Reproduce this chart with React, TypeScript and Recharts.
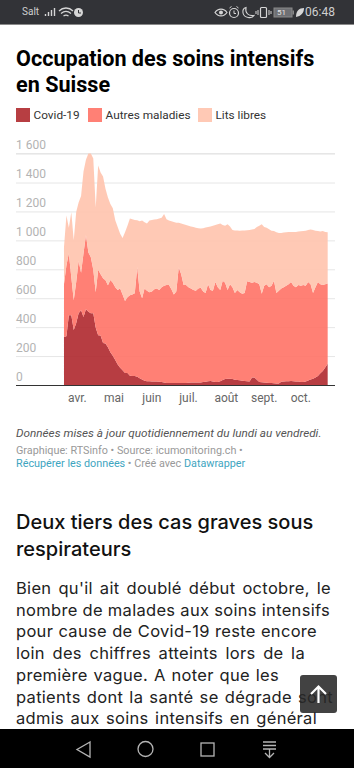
import React from 'react';
import { AreaChart, Area, XAxis, YAxis, CartesianGrid } from 'recharts';

// one reading every 2 days, day 0 = 21 March
const covid = [335, 340, 486, 486, 383, 430, 500, 520, 473, 528, 510, 500, 500, 400, 348, 345, 293, 290, 265, 230, 205, 176, 145, 122, 105, 86, 86, 68, 66, 66, 60, 50, 42, 32, 30, 30, 28, 28, 27, 26, 24, 20, 17, 17, 17, 17, 17, 17, 17, 17, 18, 19, 20, 20, 20, 21, 21, 24, 26, 30, 31, 28, 25, 24, 30, 38, 45, 46, 46, 45, 40, 38, 36, 33, 31, 30, 28, 55, 55, 40, 25, 22, 20, 19, 18, 17, 15, 14, 14, 26, 27, 29, 30, 31, 29, 28, 27, 25, 24, 28, 35, 42, 46, 55, 66, 85, 100, 125, 150];
// top of the "Autres maladies" band (covid + autres)
const occupied = [700, 830, 914, 749, 590, 714, 860, 780, 914, 1038, 920, 887, 800, 645, 800, 770, 742, 728, 693, 730, 710, 680, 660, 670, 630, 585, 610, 624, 630, 638, 817, 650, 604, 670, 655, 645, 650, 665, 670, 660, 680, 690, 695, 695, 665, 630, 650, 815, 770, 695, 695, 680, 670, 660, 655, 670, 675, 650, 640, 700, 660, 655, 715, 680, 660, 725, 710, 660, 700, 680, 640, 660, 645, 635, 640, 720, 715, 710, 715, 710, 700, 635, 690, 700, 680, 690, 725, 640, 655, 670, 680, 690, 700, 715, 690, 680, 695, 690, 695, 690, 715, 700, 640, 680, 715, 700, 695, 700, 705];
// top of the whole stack
const total = [955, 1176, 1090, 1197, 1004, 1200, 1266, 1310, 1480, 1560, 1604, 1604, 1570, 1231, 1521, 1473, 1445, 1360, 1300, 1255, 1225, 1142, 1095, 1050, 1020, 1060, 1105, 1155, 1150, 1145, 1142, 1135, 1140, 1128, 1120, 1140, 1145, 1148, 1150, 1155, 1160, 1185, 1150, 1140, 1135, 1130, 1125, 1125, 1120, 1115, 1110, 1105, 1100, 1095, 1090, 1087, 1085, 1087, 1092, 1095, 1100, 1105, 1110, 1115, 1120, 1110, 1105, 1115, 1100, 1075, 1072, 1072, 1070, 1072, 1072, 1073, 1075, 1078, 1082, 1095, 1105, 1115, 1095, 1090, 1080, 1070, 1068, 1060, 1055, 1055, 1058, 1060, 1062, 1062, 1062, 1062, 1064, 1066, 1068, 1070, 1075, 1078, 1075, 1070, 1068, 1065, 1068, 1062, 1060];

const yTicks = [0, 200, 400, 600, 800, 1000, 1200, 1400, 1600];
const yLabels = ['0', '200', '400', '600', '800', '1 000', '1 200', '1 400', '1 600'];
const monthDays = [11, 41, 72, 102, 133, 164, 194];
const monthLabels = ['avr.', 'mai', 'juin', 'juil.', 'août', 'sept.', 'oct.'];

const legendItems = [
  { label: 'Covid-19', color: '#b73e42', x: 16 },
  { label: 'Autres maladies', color: '#ff8075', x: 88 },
  { label: 'Lits libres', color: '#ffc9b5', x: 198 },
];

const bodyLines = [
  "Bien qu'il ait doublé début octobre, le",
  'nombre de malades aux soins intensifs',
  'pour cause de Covid-19 reste encore',
  'loin des chiffres atteints lors de la',
  'première vague. A noter que les',
  'patients dont la santé se dégrade sont',
  'admis aux soins intensifs en général',
];
// width of each line in the article, the fallback font is narrower
const bodyWidths = [315, 314, 301, 289, 263, 317, 301];

const chartData = covid.map((c, i) => ({
  day: i * 2,
  covid: c,
  autres: occupied[i] - c,
  libres: total[i] - occupied[i],
}));

const ROBOTO = 'Roboto, sans-serif';

const YTick = ({ y, payload }: any) => (
  <text x={16} y={y - 5} fontFamily={ROBOTO} fontSize={12} fill="#b3b3b3">
    {yLabels[yTicks.indexOf(payload.value)]}
  </text>
);

const StatusBar = () => (
  <div style={{ position: 'absolute', left: 0, top: 0, width: 354, height: 24, background: '#323337', borderBottom: '1px solid #8a8a8a', color: '#cfcfcf', fontFamily: ROBOTO }}>
    <span style={{ position: 'absolute', left: 22, top: 6, fontSize: 10 }}>Salt</span>
    <svg width={354} height={24} style={{ position: 'absolute', left: 0, top: 0 }} fill="none" stroke="#d6d6d6">
      {/* signal */}
      <path d="M45.5 16v-2M48.5 16v-4M51.5 16v-6M54.5 16V8" strokeWidth={1.4} />
      {/* wifi */}
      <path d="M59 11c4-4 10-4 14 0M61 13.5c3-2.500 7-2.500 10 0M63.500 16c1.500-1 3.500-1 5 0" strokeWidth={1.3} />
      {/* clock badge */}
      <circle cx={78.500} cy={12.500} r={4.500} fill="#d6d6d6" stroke="none" />
      <path d="M78.500 10v3h2.500" stroke="#323337" />
      {/* eye */}
      <path d="M215 12.500c3-4.500 9-4.500 12 0c-3 4.500-9 4.500-12 0z" strokeWidth={1.2} />
      <circle cx={221} cy={12.500} r={2} fill="#d6d6d6" stroke="none" />
      {/* alarm */}
      <circle cx={234} cy={13} r={4.500} strokeWidth={1.2} />
      <path d="M234 10.500v3h2M229.500 8l2-1.500M238.500 8l-2-1.500" />
      {/* moon */}
      <path d="M246 7.500c-1 5 2 9 8 8c-2 3.500-10 2.500-11-2.500c-.5-3 1-5 3-5.500z" strokeWidth={1.1} />
      {/* vibrate */}
      <rect x={260.500} y={7.500} width={6} height={10} rx={1} strokeWidth={1.2} />
      <path d="M258 10v5M269 10v5M256 11v3M271 11v3" />
      {/* battery */}
      <rect x={274} y={8} width={18} height={9} fill="#6f7074" stroke="#8a8a8a" />
      <rect x={292.500} y={10.500} width={1.500} height={4} fill="#8a8a8a" stroke="none" />
      {/* leaf */}
      <path d="M296 17c0-6 3-9 8-9c0 5-3 8-8 9z" fill="#d6d6d6" stroke="none" />
    </svg>
    <span style={{ position: 'absolute', left: 277, top: 8, fontSize: 8, color: '#e6e6e6' }}>51</span>
    <span style={{ position: 'absolute', left: 305, top: 5, fontSize: 12 }}>06:48</span>
  </div>
);

const NavBar = () => (
  <div style={{ position: 'absolute', left: 0, top: 729, width: 354, height: 39, background: '#000' }}>
    <svg width={354} height={39} fill="none" stroke="#b5b5b5" strokeWidth={1.3}>
      <path d="M90 13L77 20.500L90 28z" />
      <circle cx={145.500} cy={20} r={7.500} />
      <rect x={201} y={14} width={13} height={13} />
      <path d="M263 13h13M263 16.500h13M263 20h13M269.500 20v8M265 24l4.500 4.500l4.500-4.500" />
    </svg>
  </div>
);

export default function App() {
  return (
    <div style={{ position: 'fixed', left: 0, top: 0, width: 354, height: 768, overflow: 'hidden', background: '#fff' }}>
      <StatusBar />

      <div style={{ position: 'absolute', left: 16, top: 46, width: 330, fontFamily: ROBOTO, fontWeight: 700, fontSize: 21.6, lineHeight: '26px', color: '#000' }}>
        Occupation des soins intensifs
        <br />
        en Suisse
      </div>

      {legendItems.map(item => (
        <div key={item.label} style={{ position: 'absolute', left: item.x, top: 108, height: 14, fontFamily: ROBOTO, fontSize: 11.8, lineHeight: '15px', color: '#333', whiteSpace: 'nowrap' }}>
          <span style={{ position: 'absolute', left: 0, top: 0, width: 14, height: 14, background: item.color }} />
          <span style={{ marginLeft: 17.5 }}>{item.label}</span>
        </div>
      ))}

      <div style={{ position: 'absolute', left: 0, top: 130 }}>
        <AreaChart width={354} height={280} data={chartData} margin={{ top: 23.5, right: 19, bottom: 0.5, left: 15 }}>
          <CartesianGrid vertical={false} stroke="#e6e6e6" />
          <XAxis
            dataKey="day"
            type="number"
            domain={[-39.3, 222]}
            ticks={monthDays}
            tickFormatter={(d: number) => monthLabels[monthDays.indexOf(d)]}
            tickLine={false}
            axisLine={{ stroke: '#333' }}
            tick={{ fontFamily: ROBOTO, fontSize: 12, fill: '#666' }}
            height={24}
            interval={0}
          />
          <YAxis width={1} domain={[0, 1600]} ticks={yTicks} tickLine={false} axisLine={false} tick={YTick} interval={0} />
          <Area dataKey="covid" stackId="icu" type="linear" stroke="none" fill="#af282d" fillOpacity={0.9} dot={false} activeDot={false} isAnimationActive={false} />
          <Area dataKey="autres" stackId="icu" type="linear" stroke="none" fill="#ff7266" fillOpacity={0.9} dot={false} activeDot={false} isAnimationActive={false} />
          <Area dataKey="libres" stackId="icu" type="linear" stroke="none" fill="#ffc3ad" fillOpacity={0.9} dot={false} activeDot={false} isAnimationActive={false} />
        </AreaChart>
      </div>

      <div style={{ position: 'absolute', left: 16, top: 426, fontFamily: ROBOTO, fontStyle: 'italic', fontSize: 11.75, lineHeight: '14px', color: '#555', whiteSpace: 'nowrap' }}>
        Données mises à jour quotidiennement du lundi au vendredi.
      </div>
      <div style={{ position: 'absolute', left: 16, top: 444, fontFamily: ROBOTO, fontSize: 10.8, lineHeight: '13px', color: '#999', whiteSpace: 'nowrap' }}>
        Graphique: RTSinfo • Source: icumonitoring.ch •
        <br />
        <span style={{ color: '#3ea5bf' }}>Récupérer les données</span> • Créé avec <span style={{ color: '#3ea5bf' }}>Datawrapper</span>
      </div>

      <div style={{ position: 'absolute', left: 16, top: 509, fontFamily: 'Inter, sans-serif', fontWeight: 500, fontSize: 20, lineHeight: '27px', color: '#111', whiteSpace: 'nowrap' }}>
        Deux tiers des cas graves sous
        <br />
        respirateurs
      </div>

      <div style={{ position: 'absolute', left: 16, top: 578, fontFamily: 'Inter, sans-serif', fontSize: 16.5, letterSpacing: 0.3, lineHeight: '21.700px', color: '#222' }}>
        {bodyLines.map((line, i) => (
          <div key={line} style={{ width: bodyWidths[i], textAlign: 'justify', textAlignLast: 'justify' }}>{line}</div>
        ))}
      </div>

      <div style={{ position: 'absolute', left: 300, top: 675, width: 37, height: 38, borderRadius: 3, background: 'rgba(40,40,40,0.88)' }}>
        <svg width={37} height={38} fill="none" stroke="#fff" strokeWidth={2.200}>
          <path d="M18.500 28V12M11 19l7.500-7.500L26 19" />
        </svg>
      </div>

      <NavBar />
    </div>
  );
}
